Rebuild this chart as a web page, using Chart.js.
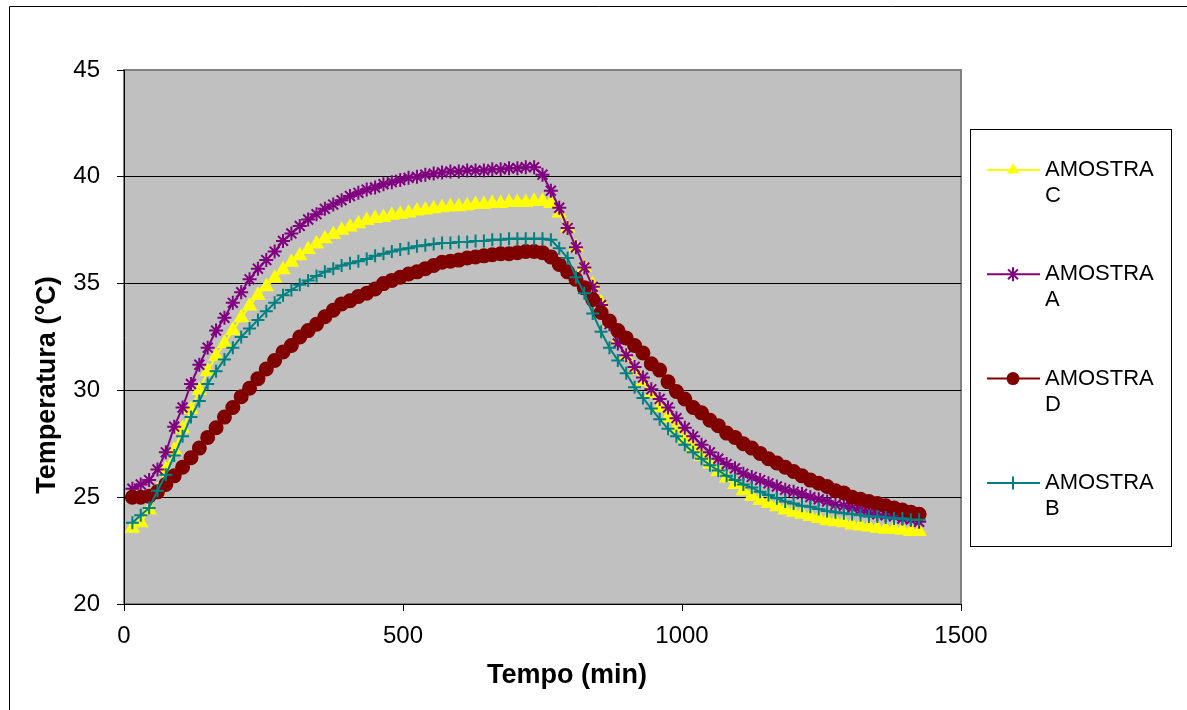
<!DOCTYPE html>
<html>
<head>
<meta charset="utf-8">
<script src="https://cdn.jsdelivr.net/npm/chart.js@4.4.1/dist/chart.umd.min.js"></script>
<style>
  html, body { margin: 0; padding: 0; background: #fff; overflow: hidden; }
  #wrap { width: 1187px; height: 710px; position: relative; }
</style>
</head>
<body>
<div id="wrap"><canvas id="chart" width="1187" height="710"></canvas></div>
<script>
// tempo (min)
const tempo = [
  15, 30, 45, 60, 75, 90, 105, 120, 135, 150,
  165, 180, 195, 210, 225, 240, 255, 270, 285, 300,
  315, 330, 345, 360, 375, 390, 405, 420, 435, 450,
  465, 480, 495, 510, 525, 540, 555, 570, 585, 600,
  615, 630, 645, 660, 675, 690, 705, 720, 735, 750,
  765, 780, 795, 810, 825, 840, 855, 870, 885, 900,
  915, 930, 945, 960, 975, 990, 1005, 1020, 1035, 1050,
  1065, 1080, 1095, 1110, 1125, 1140, 1155, 1170, 1185, 1200,
  1215, 1230, 1245, 1260, 1275, 1290, 1305, 1320, 1335, 1350,
  1365, 1380, 1395, 1410, 1425
];

const amostraC = [
  23.55, 23.8, 24.4, 25.3, 26.3, 27.2, 28.2, 29.1, 30.0, 30.9,
  31.6, 32.2, 32.8, 33.4, 33.95, 34.45, 34.85, 35.25, 35.65, 36.0,
  36.3, 36.6, 36.85, 37.1, 37.3, 37.5, 37.65, 37.8, 37.95, 38.05,
  38.1, 38.2, 38.25, 38.3, 38.4, 38.45, 38.5, 38.55, 38.6, 38.6,
  38.65, 38.7, 38.7, 38.75, 38.75, 38.8, 38.8, 38.8, 38.85, 38.85,
  38.75, 38.3, 37.6, 36.7, 35.75, 34.95, 34.1, 33.2, 32.35, 31.6,
  30.95, 30.4, 29.85, 29.2, 28.7, 28.2, 27.75, 27.3, 26.9, 26.55,
  26.2, 25.9, 25.6, 25.3, 25.05, 24.85, 24.7, 24.55, 24.4, 24.3,
  24.2, 24.1, 24.0, 23.9, 23.85, 23.8, 23.7, 23.65, 23.6, 23.55,
  23.5, 23.5, 23.45, 23.4, 23.4
];

const amostraA = [
  25.4, 25.6, 25.8, 26.3, 27.1, 28.3, 29.2, 30.3, 31.2, 32.0,
  32.8, 33.4, 34.1, 34.6, 35.2, 35.7, 36.1, 36.5, 37.0, 37.35,
  37.7, 38.0, 38.25, 38.5, 38.7, 38.9, 39.1, 39.25, 39.4, 39.5,
  39.65, 39.75, 39.85, 39.95, 40.0, 40.1, 40.15, 40.2, 40.25, 40.25,
  40.3, 40.3, 40.3, 40.35, 40.35, 40.4, 40.4, 40.45, 40.45, 40.1,
  39.35, 38.55, 37.6, 36.7, 35.75, 34.85, 34.0, 33.1, 32.2, 31.65,
  31.1, 30.6, 30.05, 29.6, 29.2, 28.7, 28.25, 27.85, 27.45, 27.1,
  26.8, 26.55, 26.35, 26.1, 25.95, 25.8, 25.65, 25.5, 25.35, 25.25,
  25.15, 25.0, 24.9, 24.8, 24.65, 24.6, 24.5, 24.4, 24.3, 24.2,
  24.15, 24.1, 24.0, 23.95, 23.85
];

const amostraD = [
  25.0, 25.0, 25.05, 25.25, 25.6, 26.0, 26.4, 26.85, 27.3, 27.8,
  28.25, 28.75, 29.2, 29.7, 30.1, 30.55, 31.0, 31.4, 31.8, 32.1,
  32.5, 32.8, 33.1, 33.45, 33.75, 34.05, 34.2, 34.4, 34.55, 34.75,
  35.0, 35.15, 35.3, 35.45, 35.55, 35.7, 35.85, 36.0, 36.05, 36.1,
  36.2, 36.25, 36.3, 36.35, 36.4, 36.4, 36.45, 36.5, 36.5, 36.45,
  36.25, 35.9, 35.55, 35.2, 34.8, 34.25, 33.65, 33.25, 32.8, 32.45,
  32.1, 31.75, 31.25, 30.95, 30.4, 29.95, 29.6, 29.2, 28.95, 28.6,
  28.35, 28.0, 27.8, 27.5, 27.3, 27.05, 26.8, 26.6, 26.4, 26.2,
  26.0, 25.8, 25.65, 25.5, 25.3, 25.2, 25.0, 24.9, 24.8, 24.7,
  24.6, 24.5, 24.4, 24.3, 24.2
];

const amostraB = [
  23.8, 24.15, 24.5, 25.3, 26.05, 26.95, 27.85, 28.75, 29.5, 30.3,
  30.9, 31.45, 32.0, 32.5, 32.9, 33.3, 33.7, 34.1, 34.45, 34.7,
  34.95, 35.15, 35.35, 35.55, 35.7, 35.85, 35.95, 36.05, 36.15, 36.3,
  36.4, 36.5, 36.6, 36.65, 36.75, 36.8, 36.85, 36.9, 36.9, 36.95,
  36.95, 37.0, 37.0, 37.05, 37.05, 37.1, 37.1, 37.1, 37.1, 37.1,
  37.05, 36.65, 36.2, 35.3, 34.55, 33.6, 32.75, 32.0, 31.4, 30.8,
  30.15, 29.65, 29.15, 28.65, 28.2, 27.85, 27.45, 27.1, 26.8, 26.5,
  26.25, 26.0, 25.8, 25.6, 25.45, 25.25, 25.1, 24.95, 24.8, 24.7,
  24.6, 24.55, 24.45, 24.35, 24.3, 24.25, 24.2, 24.15, 24.1, 24.1,
  24.05, 24.0, 24.0, 23.95, 23.95
];

const yTicks = [20, 25, 30, 35, 40, 45];
const xTicks = [0, 500, 1000, 1500];

const FONT = '"Liberation Sans", Arial, sans-serif';

function pts(values) {
  return tempo.map((t, i) => ({ x: t, y: values[i] }));
}

// legend order = series order (C, A, D, B); later series drawn on top
const series = [
  { label: ['AMOSTRA', 'C'], data: amostraC, color: '#FFFF00', style: 'triangle', r: 7, order: 3 },
  { label: ['AMOSTRA', 'A'], data: amostraA, color: '#800080', style: 'star', r: 7, order: 2 },
  { label: ['AMOSTRA', 'D'], data: amostraD, color: '#800000', style: 'circle', r: 6.5, order: 1 },
  { label: ['AMOSTRA', 'B'], data: amostraB, color: '#008080', style: 'cross', r: 6.5, order: 0 }
];

function drawMarker(ctx, s, x, y) {
  const r = s.r;
  ctx.fillStyle = s.color;
  ctx.strokeStyle = s.color;
  ctx.lineWidth = 2;
  ctx.beginPath();
  if (s.style === 'triangle') {
    ctx.moveTo(x, y - r);
    ctx.lineTo(x + r * 0.866, y + r * 0.5);
    ctx.lineTo(x - r * 0.866, y + r * 0.5);
    ctx.closePath();
    ctx.fill();
  } else if (s.style === 'circle') {
    ctx.arc(x, y, r, 0, Math.PI * 2);
    ctx.fill();
  } else if (s.style === 'star') {
    const d = r * 0.707;
    ctx.moveTo(x - d, y - d); ctx.lineTo(x + d, y + d);
    ctx.moveTo(x + d, y - d); ctx.lineTo(x - d, y + d);
    ctx.moveTo(x, y - r); ctx.lineTo(x, y + r);
    ctx.stroke();
  } else {
    ctx.moveTo(x, y - r); ctx.lineTo(x, y + r);
    ctx.moveTo(x - r, y); ctx.lineTo(x + r, y);
    ctx.stroke();
  }
}

const decor = {
  id: 'decor',
  beforeDraw(chart) {
    const { ctx, chartArea: a } = chart;
    ctx.save();
    ctx.fillStyle = '#fff';
    ctx.fillRect(0, 0, chart.width, chart.height);
    // chart area frame (only left/top edges are in view)
    ctx.strokeStyle = '#000';
    ctx.lineWidth = 1;
    ctx.beginPath();
    ctx.moveTo(9.5, 710);
    ctx.lineTo(9.5, 6.5);
    ctx.lineTo(1187, 6.5);
    ctx.stroke();
    // plot area
    ctx.fillStyle = '#C0C0C0';
    ctx.fillRect(a.left, a.top, a.right - a.left, a.bottom - a.top);
    ctx.strokeStyle = '#808080';
    ctx.lineWidth = 2;
    ctx.strokeRect(a.left, a.top, a.right - a.left, a.bottom - a.top);
    ctx.restore();
  },
  afterDraw(chart) {
    const ctx = chart.ctx;
    ctx.save();
    // axis titles
    ctx.fillStyle = '#000';
    ctx.font = 'bold 27px ' + FONT;
    ctx.textAlign = 'center';
    ctx.textBaseline = 'middle';
    ctx.fillText('Tempo (min)', 567, 676);
    ctx.save();
    ctx.translate(48, 385);
    ctx.rotate(-Math.PI / 2);
    ctx.fillText('Temperatura (°C)', 0, 0);
    ctx.restore();

    // legend box
    ctx.strokeStyle = '#000';
    ctx.lineWidth = 1;
    ctx.strokeRect(970.5, 129.5, 201, 417);
    ctx.font = '22px ' + FONT;
    ctx.textAlign = 'left';
    series.forEach((s, i) => {
      const y = 170 + i * 104.3;
      ctx.strokeStyle = s.color;
      ctx.lineWidth = 2;
      ctx.beginPath();
      ctx.moveTo(987, y);
      ctx.lineTo(1040, y);
      ctx.stroke();
      drawMarker(ctx, s, 1013, y);
      ctx.fillStyle = '#000';
      ctx.fillText(s.label[0], 1045, y);
      ctx.fillText(s.label[1], 1045, y + 26);
    });
    ctx.restore();
  }
};

new Chart(document.getElementById('chart'), {
  type: 'line',
  data: {
    datasets: series.map(s => ({
      label: s.label.join(' '),
      data: pts(s.data),
      order: s.order,
      borderColor: s.color,
      backgroundColor: s.color,
      borderWidth: 2,
      tension: 0,
      pointStyle: s.style,
      pointRadius: s.r,
      pointBorderWidth: 2,
      pointBackgroundColor: s.color,
      pointBorderColor: s.color,
      pointHoverRadius: s.r
    }))
  },
  plugins: [decor],
  options: {
    responsive: false,
    animation: false,
    devicePixelRatio: 1,
    layout: { padding: { left: 0, top: 70, right: 226, bottom: 0 } },
    plugins: {
      legend: { display: false },
      title: { display: false },
      tooltip: { enabled: false }
    },
    scales: {
      x: {
        type: 'linear',
        min: 0,
        max: 1500,
        afterFit(scale) { scale.height = 106; },
        afterBuildTicks(scale) { scale.ticks = xTicks.map(v => ({ value: v })); },
        border: { display: true, color: '#000', width: 1 },
        grid: { drawOnChartArea: false, drawTicks: true, tickLength: 7, tickColor: '#000' },
        ticks: {
          color: '#000',
          font: { family: FONT, size: 24 },
          padding: 11,
          maxRotation: 0,
          callback: v => String(v)
        }
      },
      y: {
        min: 20,
        max: 45,
        afterFit(scale) { scale.width = 124; },
        afterBuildTicks(scale) { scale.ticks = yTicks.map(v => ({ value: v })); },
        border: { display: true, color: '#000', width: 1 },
        grid: {
          drawTicks: true,
          tickLength: 7,
          tickColor: '#000',
          lineWidth: 1,
          color: ctx => (ctx.tick && ctx.tick.value === 45) ? 'rgba(0,0,0,0)' : '#000'
        },
        ticks: { color: '#000', font: { family: FONT, size: 24 }, padding: 17 }
      }
    }
  }
});
</script>
</body>
</html>
